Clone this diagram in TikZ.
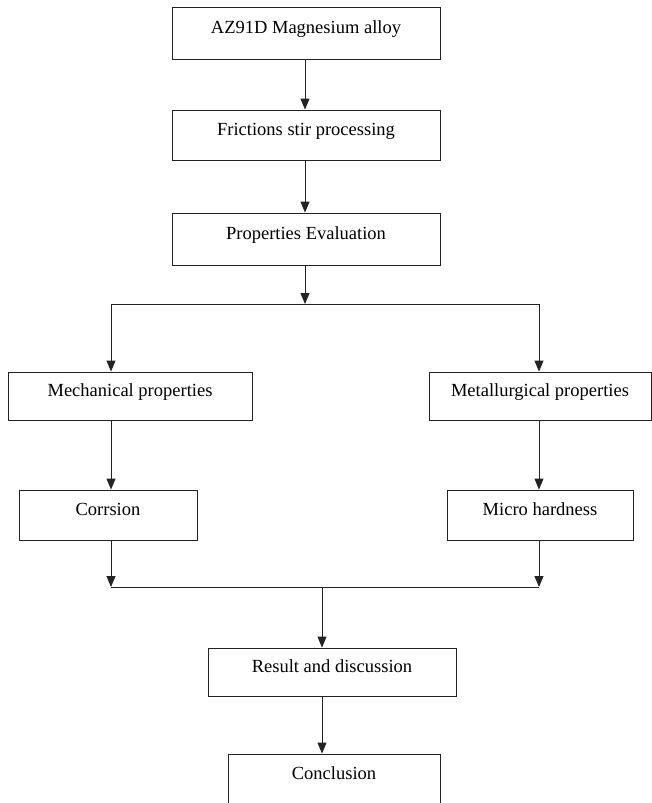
\documentclass[tikz,border=0pt]{standalone}
\usepackage{fontspec}
\setmainfont{Liberation Serif}
\usetikzlibrary{arrows.meta,positioning,calc}
\definecolor{flowline}{RGB}{35,35,35}

\begin{document}
\begin{tikzpicture}[
  x=1pt, y=-1pt,
  box/.style={rectangle, draw=flowline, line width=0.9pt, minimum height=50pt, inner sep=0pt, text height=12pt, text depth=12pt, align=center, font=\fontsize{18.5}{22}\selectfont},
  arrow/.style={-{Triangle[length=11pt,width=9pt]}, line width=0.9pt, flowline},
  link/.style={line width=0.9pt, flowline}
]
\useasboundingbox (0,0) rectangle (652,803);

% Main column
\node[box, minimum width=268pt, minimum height=52pt] (alloy) at (306,33) {AZ91D Magnesium alloy};
\node[box, minimum width=268pt] (fsp) at (306,135) {Frictions stir processing};
\node[box, minimum width=268pt, minimum height=52pt] (eval) at (306,239) {Properties Evaluation};

% Two branches
\node[box, minimum width=244pt, minimum height=48pt] (mech) at (130,396) {Mechanical properties};
\node[box, minimum width=222pt, minimum height=48pt] (metal) at (540,396) {Metallurgical properties};
\node[box, minimum width=178pt] (corr) at (108,515) {Corrsion};
\node[box, minimum width=186pt] (micro) at (540,515) {Micro hardness};

% Outcome
\node[box, minimum width=248pt, minimum height=48pt] (result) at (332,672) {Result and discussion};
\node[box, minimum width=212pt] (concl) at (334,779) {Conclusion};

% Junction points
\coordinate (split) at (305,304);
\coordinate (splitL) at (111,304);
\coordinate (splitR) at (539,304);
\coordinate (mergeL) at (111,587);
\coordinate (mergeR) at (539,587);
\coordinate (merge) at (322,587);

% Arrows
\draw[arrow] (alloy.south -| split) -- (fsp.north -| split);
\draw[arrow] (fsp.south -| split) -- (eval.north -| split);
\draw[arrow] (eval.south -| split) -- (split);
\draw[link] (splitL) -- (splitR);
\draw[arrow] (splitL) -- (splitL |- mech.north);
\draw[arrow] (splitR) -- (splitR |- metal.north);
\draw[arrow] (splitL |- mech.south) -- (splitL |- corr.north);
\draw[arrow] (splitR |- metal.south) -- (splitR |- micro.north);
\draw[arrow] (splitL |- corr.south) -- (mergeL);
\draw[arrow] (splitR |- micro.south) -- (mergeR);
\draw[link] (mergeL) -- (mergeR);
\draw[arrow] (merge) -- (merge |- result.north);
\draw[arrow] (merge |- result.south) -- (merge |- concl.north);

\end{tikzpicture}
\end{document}
